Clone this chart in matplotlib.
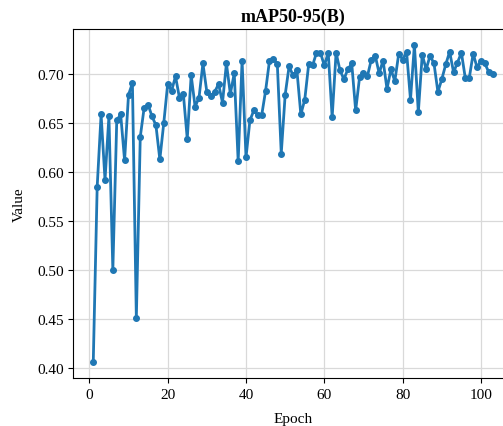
import matplotlib
matplotlib.use("Agg")
import matplotlib.pyplot as plt

plt.rcParams['font.family'] = ['Liberation Serif', 'DejaVu Serif']

epochs = list(range(1, 104))
map50_95 = [
    0.406, 0.585, 0.659, 0.592, 0.657, 0.500, 0.653, 0.659, 0.612, 0.679,
    0.691, 0.451, 0.636, 0.666, 0.669, 0.657, 0.648, 0.613, 0.650, 0.690,
    0.683, 0.698, 0.676, 0.680, 0.634, 0.699, 0.667, 0.676, 0.711, 0.682,
    0.678, 0.682, 0.690, 0.671, 0.711, 0.680, 0.701, 0.611, 0.714, 0.615,
    0.653, 0.663, 0.658, 0.658, 0.683, 0.714, 0.716, 0.710, 0.619, 0.679,
    0.708, 0.699, 0.704, 0.659, 0.674, 0.710, 0.709, 0.722, 0.722, 0.709,
    0.722, 0.656, 0.722, 0.704, 0.695, 0.705, 0.711, 0.663, 0.697, 0.701,
    0.698, 0.715, 0.719, 0.701, 0.714, 0.685, 0.705, 0.693, 0.721, 0.715,
    0.723, 0.674, 0.730, 0.661, 0.720, 0.705, 0.719, 0.711, 0.682, 0.695,
    0.710, 0.723, 0.702, 0.712, 0.722, 0.696, 0.696, 0.721, 0.707, 0.714,
    0.711, 0.702, 0.700,
]

fig = plt.figure(figsize=(5.03, 4.27), dpi=100)
# right edge of the axes runs past the canvas, as in the reference crop
ax = fig.add_axes([0.1457, 0.1124, 0.8736, 0.8173])
ax.plot(epochs, map50_95, marker='o', markersize=4, linewidth=2, color='#1f77b4')
ax.set_title('mAP50-95(B)', fontsize=13, fontweight='bold')
ax.set_xlabel('Epoch', fontsize=11, labelpad=8)
ax.set_ylabel('Value', fontsize=11, labelpad=8)
ax.set_yticks([0.40, 0.45, 0.50, 0.55, 0.60, 0.65, 0.70])
ax.yaxis.set_major_formatter(matplotlib.ticker.FormatStrFormatter('%.2f'))
ax.tick_params(labelsize=11)
ax.grid(True, color='#d9d9d9', linewidth=0.9)

fig.savefig('out.png', dpi=100)
